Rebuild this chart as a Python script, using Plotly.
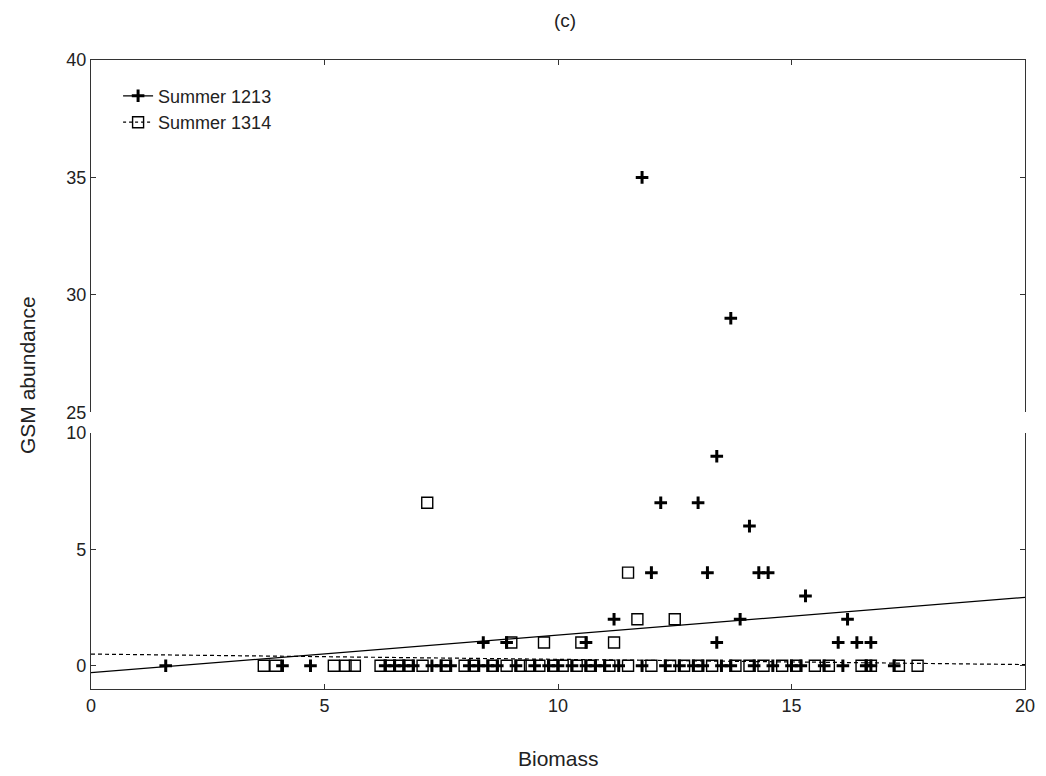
import plotly.graph_objects as go

# ---------------- data ----------------
# Summer 1213 (plus markers)
s1213_x_nonzero = [11.8, 13.7, 13.4, 12.2, 13.0, 14.1, 12.0, 13.2, 14.3, 14.5,
                   15.3, 11.2, 13.9, 16.2, 8.4, 8.9, 10.6, 13.4, 16.0, 16.4, 16.7]
s1213_y_nonzero = [35, 29, 9, 7, 7, 6, 4, 4, 4, 4,
                   3, 2, 2, 2, 1, 1, 1, 1, 1, 1, 1]
s1213_x_zero = [1.6, 4.1, 4.7, 6.3, 6.5, 6.7, 6.9, 7.3, 7.5, 7.7, 8.1, 8.3, 8.5,
                8.7, 9.1, 9.5, 9.8, 10.0, 10.3, 10.6, 10.8, 11.0, 11.3, 11.8,
                12.3, 12.6, 12.9, 13.1, 13.5, 13.7, 14.2, 14.6, 15.0, 15.2,
                15.7, 16.1, 16.6, 16.7, 17.2]

# Summer 1314 (open square markers)
s1314_x_nonzero = [7.2, 11.5, 11.7, 12.5, 9.0, 9.7, 10.5, 11.2]
s1314_y_nonzero = [7, 4, 2, 2, 1, 1, 1, 1]
s1314_x_zero = [3.7, 3.95, 5.2, 5.45, 5.65, 6.2, 6.4, 6.6, 6.8, 7.1, 7.6, 8.0,
                8.2, 8.6, 8.9, 9.2, 9.4, 9.6, 9.9, 10.1, 10.4, 10.7, 11.1, 11.5,
                12.0, 12.4, 12.7, 13.0, 13.3, 13.8, 14.1, 14.4, 14.8, 15.1,
                15.5, 15.8, 16.5, 16.7, 17.3, 17.7]

# linear fits (intercept, slope)
fit_1213 = [-0.3, 0.162]
fit_1314 = [0.5, -0.0225]
fit_x = [0, 20]

series_names = ["Summer 1213", "Summer 1314"]
y_ticks_bottom = [0, 5, 10]
y_ticks_top = [25, 30, 35, 40]
x_ticks = [0, 5, 10, 15, 20]

# ---------------- build ----------------
x1213 = s1213_x_nonzero + s1213_x_zero
y1213 = s1213_y_nonzero + [0] * len(s1213_x_zero)
x1314 = s1314_x_nonzero + s1314_x_zero
y1314 = s1314_y_nonzero + [0] * len(s1314_x_zero)

FONT = "Arial, Liberation Sans, sans-serif"
plus_marker = dict(symbol="cross-thin", size=9, line=dict(color="black", width=3), color="black")
sq_marker = dict(symbol="square-open", size=11, color="black", line=dict(width=1.4))

fig = go.Figure()

for (xa, ya) in [("x", "y"), ("x2", "y2")]:
    fig.add_trace(go.Scatter(x=x1314, y=y1314, mode="markers", marker=sq_marker,
                             xaxis=xa, yaxis=ya, showlegend=False, cliponaxis=True))
    fig.add_trace(go.Scatter(x=x1213, y=y1213, mode="markers", marker=plus_marker,
                             xaxis=xa, yaxis=ya, showlegend=False, cliponaxis=True))

fig.add_trace(go.Scatter(x=fit_x, y=[fit_1213[0] + fit_1213[1] * v for v in fit_x],
                         mode="lines", line=dict(color="black", width=1.3),
                         xaxis="x", yaxis="y", showlegend=False))
fig.add_trace(go.Scatter(x=fit_x, y=[fit_1314[0] + fit_1314[1] * v for v in fit_x],
                         mode="lines", line=dict(color="black", width=1.2, dash="4px,3px"),
                         xaxis="x", yaxis="y", showlegend=False))

# legend-only entries
fig.add_trace(go.Scatter(x=[None], y=[None], mode="lines+markers", name=series_names[0],
                         marker=plus_marker, line=dict(color="black", width=1.2),
                         xaxis="x2", yaxis="y2"))
fig.add_trace(go.Scatter(x=[None], y=[None], mode="lines+markers", name=series_names[1],
                         marker=sq_marker, line=dict(color="black", width=1.2, dash="dot"),
                         xaxis="x2", yaxis="y2"))

axis_line = dict(showline=True, linecolor="#333333", linewidth=1.3, showgrid=False,
                 zeroline=False, ticks="inside", ticklen=5, tickcolor="#333333",
                 tickfont=dict(family=FONT, size=18, color="#222222"))

fig.update_layout(
    width=1046, height=776,
    margin=dict(l=83, r=29, t=52, b=95),
    paper_bgcolor="white", plot_bgcolor="white",
    font=dict(family=FONT, color="#222222"),
    title=dict(text="(c)", x=0.5325, xanchor="center", y=0.9845, yanchor="middle",
               font=dict(family=FONT, size=19, color="#222222")),
    xaxis=dict(range=[0, 20], tickvals=x_ticks, anchor="y", domain=[0, 1],
               mirror=False, **axis_line),
    xaxis2=dict(range=[0, 20], tickvals=x_ticks, anchor="y2", side="top", domain=[0, 1],
                showticklabels=False, mirror=False, matches="x", **axis_line),
    yaxis=dict(range=[-1, 10], tickvals=y_ticks_bottom, domain=[0, 0.407], anchor="x",
               mirror="ticks", **axis_line),
    yaxis2=dict(range=[25, 40], tickvals=y_ticks_top, domain=[0.44, 1], anchor="x2",
                mirror="ticks", **axis_line),
    legend=dict(x=0.029, y=0.972, xanchor="left", yanchor="top", bgcolor="rgba(0,0,0,0)",
                font=dict(family=FONT, size=18, color="#222222"), tracegroupgap=0,
                itemwidth=30),
    showlegend=True,
    annotations=[
        dict(text="GSM abundance", xref="paper", yref="paper", x=-0.068, y=0.5,
             textangle=-90, showarrow=False, font=dict(family=FONT, size=21, color="#222222"),
             xanchor="center", yanchor="middle"),
        dict(text="Biomass", xref="paper", yref="paper", x=0.5, y=-0.11,
             showarrow=False, font=dict(family=FONT, size=21, color="#222222"),
             xanchor="center", yanchor="middle"),
    ],
)

fig.write_html("out.html")
